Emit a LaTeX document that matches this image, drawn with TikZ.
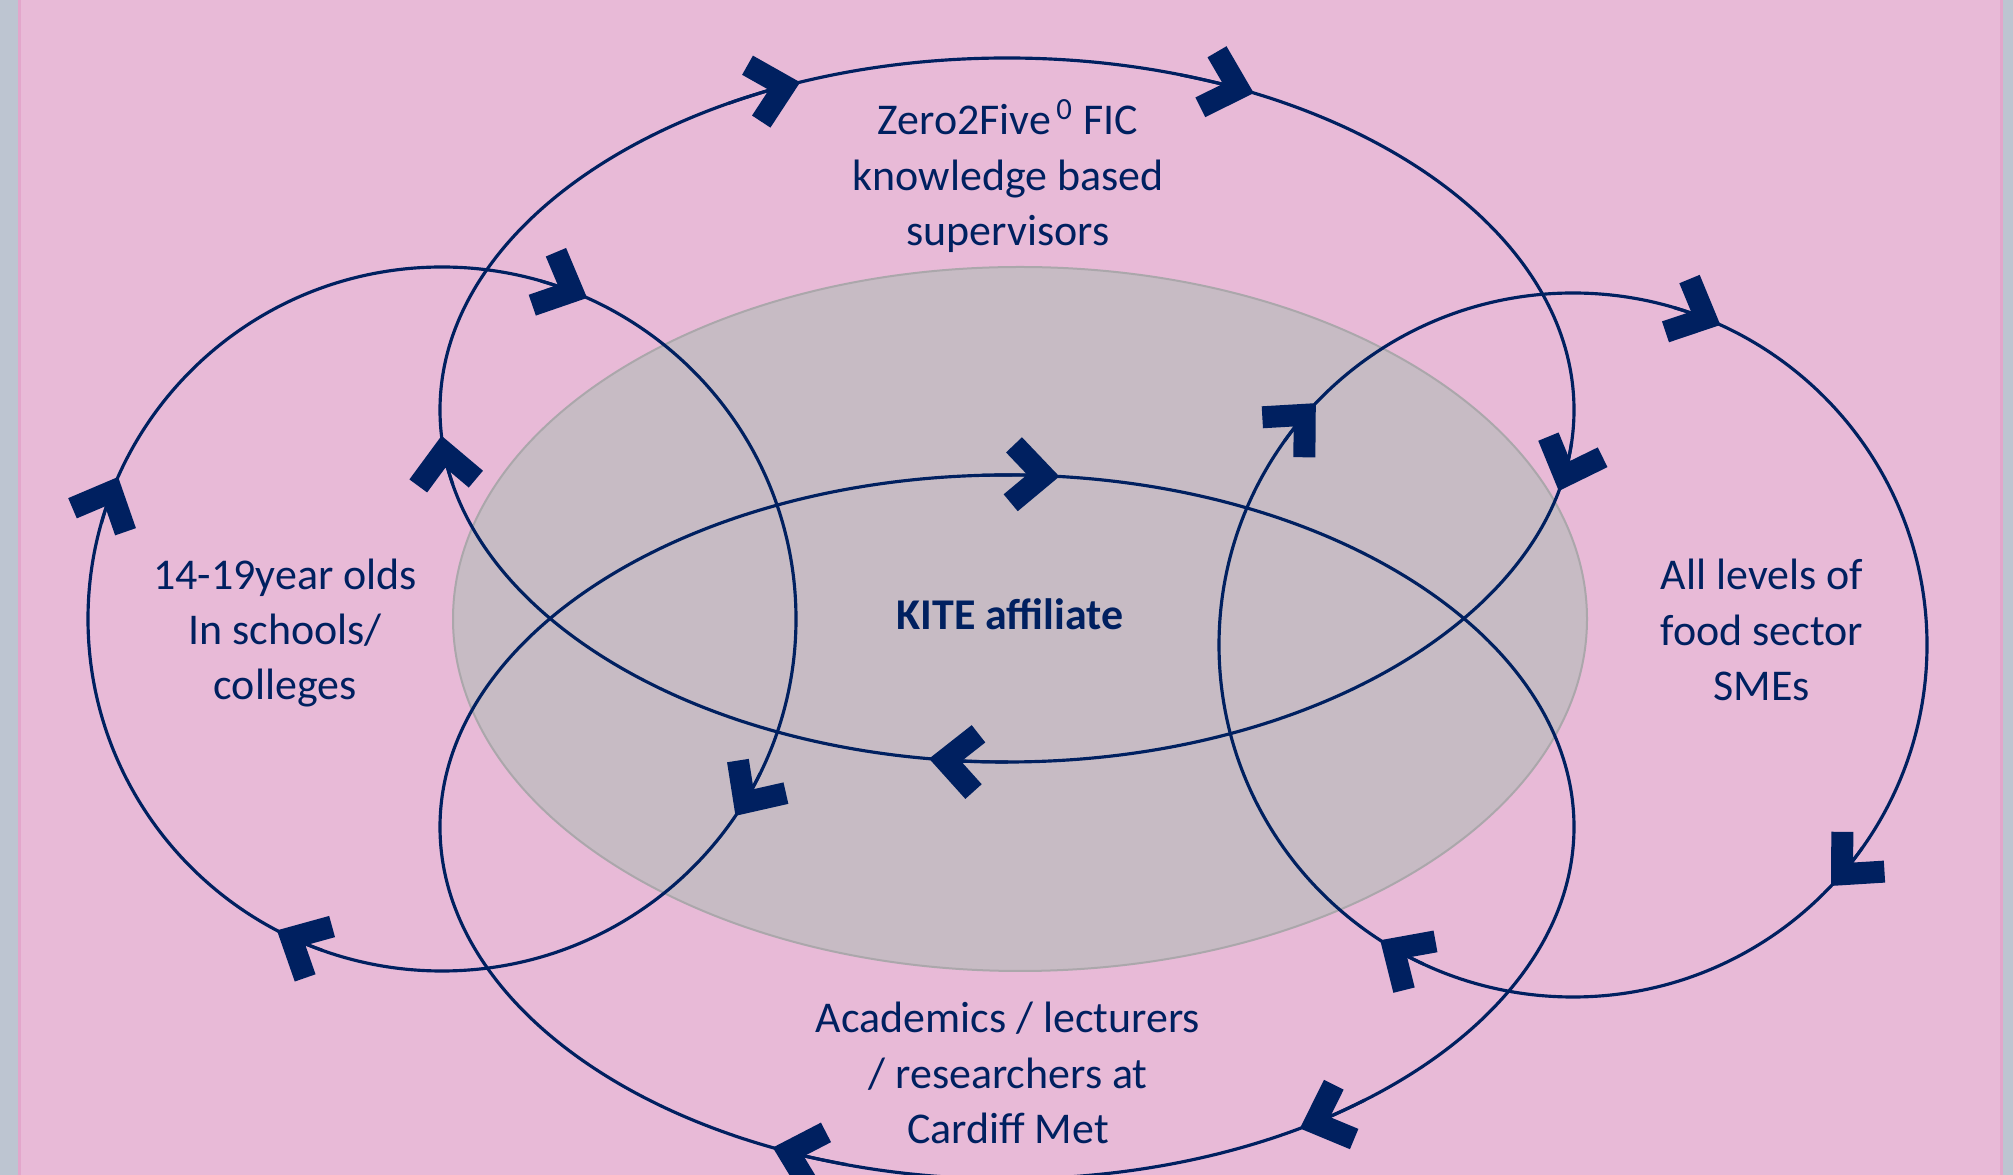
\documentclass[tikz,border=0pt]{standalone}
\usepackage{fontspec}
\setmainfont{Carlito}
\usetikzlibrary{arrows.meta}
\definecolor{kitepink}{HTML}{E8BAD7}
\definecolor{kiteedge}{HTML}{E3A6CB}
\definecolor{kitestrip}{HTML}{BDC5D1}
\definecolor{kitegrey}{HTML}{C7BBC4}
\definecolor{kitegreyline}{HTML}{ABA7AB}
\definecolor{kitenavy}{HTML}{002060}
\tikzset{
  cycle line/.style={draw=kitenavy, line width=0.9pt},
  cycle tip/.style={cycle line, -{Straight Barb[length=3.1mm, width=5.8mm, line width=2.2mm, line join=miter, line cap=butt]}},
  group text/.style={text=kitenavy, align=center, inner sep=0pt, font=\fontsize{12.5}{15.7}\selectfont}
}
\begin{document}
\begin{tikzpicture}[x=0.1mm, y=-0.1mm]
% Canvas
\useasboundingbox (0,0) rectangle (2013,1175);
\fill[kitestrip] (0,0) rectangle (2013,1175);
\fill[kitepink] (19,0) rectangle (2001,1175);
\draw[kiteedge, line width=0.3mm] (19,0) -- (19,1175) (2001,0) -- (2001,1175);
\clip (20,0) rectangle (2000,1175);

% Centres of the rings
\coordinate (kite) at (1020,619);
\coordinate (sup) at (1007,410);
\coordinate (acad) at (1007,827);
\coordinate (pupil) at (442,619);
\coordinate (sme) at (1573,645);

% Shared middle
\draw[fill=kitegrey, draw=kitegreyline, line width=0.2mm] (kite) ellipse [x radius=567, y radius=352];

% Supervisors ring
\draw[cycle line] (sup) ellipse [x radius=567, y radius=352];
\foreach \t [evaluate=\t as \s using \t-8] in {248.6, 295.8, 13.3, 97.9, 175.8}
  \draw[cycle tip] (sup) ++(\s:567 and 352) arc[start angle=\s, end angle=\t, x radius=567, y radius=352];

% Academics ring
\draw[cycle line] (acad) ellipse [x radius=567, y radius=352];
\foreach \t [evaluate=\t as \s using \t-8] in {275.3, 58.9, 114.4}
  \draw[cycle tip] (acad) ++(\s:567 and 352) arc[start angle=\s, end angle=\t, x radius=567, y radius=352];

% School ring
\draw[cycle line] (pupil) ellipse [x radius=354, y radius=352];
\foreach \t [evaluate=\t as \s using \t-8] in {-65.8, 34, 117.8, 203.8}
  \draw[cycle tip] (pupil) ++(\s:354 and 352) arc[start angle=\s, end angle=\t, x radius=354, y radius=352];

% SME ring
\draw[cycle line] (sme) ellipse [x radius=354, y radius=352];
\foreach \t [evaluate=\t as \s using \t-8] in {294.6, 43.2, 123, 223.4}
  \draw[cycle tip] (sme) ++(\s:354 and 352) arc[start angle=\s, end angle=\t, x radius=354, y radius=352];

% Labels
\node[group text] (suptext) at (1008,176) {Zero2Five\textsuperscript{\,0} FIC\\knowledge based\\supervisors};
\node[group text] (pupiltext) at (285,633) {14-19year olds\\In schools/\\colleges};
\node[group text] (smetext) at (1762,630) {All levels of\\food sector\\SMEs};
\node[group text] (acadtext) at (1008,1073) {Academics / lecturers\\/ researchers at\\Cardiff Met};
\node[group text, font=\fontsize{12.5}{15.7}\selectfont\bfseries] (kitetext) at (1010,614) {KITE affiliate};
\end{tikzpicture}
\end{document}
